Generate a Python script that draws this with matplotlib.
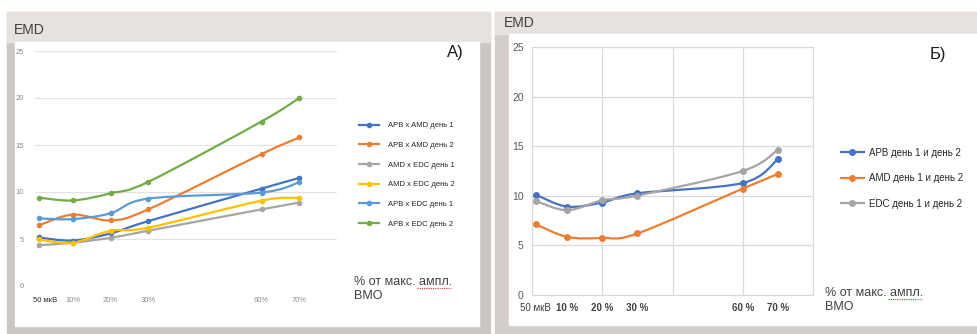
import matplotlib.pyplot as plt
from matplotlib.path import Path
from matplotlib.patches import PathPatch, Rectangle
from matplotlib.lines import Line2D
from matplotlib.transforms import ScaledTranslation

plt.rcParams['font.family'] = ['Liberation Sans', 'DejaVu Sans']

# x positions (% of max amplitude), first point is 50 мкВ
x_pos = [1, 10, 20, 30, 60, 70]
x_labels_a = ['50 мкВ', '10%', '20%', '30%', '60%', '70%']
x_labels_b = ['50 мкВ', '10 %', '20 %', '30 %', '60 %', '70 %']

# Panel A
names_a = ['APB x AMD день 1', 'APB x AMD день 2', 'AMD x EDC день 1',
           'AMD x EDC день 2', 'APB x EDC день 1', 'APB x EDC день 2']
apb_amd_1 = [5.16, 4.84, 5.59, 6.90, 10.36, 11.50]
apb_amd_2 = [6.45, 7.60, 6.98, 8.15, 14.03, 15.80]
amd_edc_1 = [4.34, 4.60, 5.13, 5.88, 8.15, 8.87]
amd_edc_2 = [4.95, 4.60, 5.88, 6.20, 9.08, 9.37]
apb_edc_1 = [7.19, 7.12, 7.73, 9.30, 9.94, 11.04]
apb_edc_2 = [9.40, 9.10, 9.86, 11.08, 17.50, 20.00]
colors_a = ['#4472C4', '#ED7D31', '#A5A5A5', '#FFC000', '#5B9BD5', '#70AD47']

# Panel B
names_b = ['APB день 1 и день 2', 'AMD день 1 и день 2', 'EDC день 1 и день 2']
apb_12 = [10.12, 8.91, 9.32, 10.25, 11.29, 13.70]
amd_12 = [7.14, 5.86, 5.76, 6.20, 10.72, 12.20]
edc_12 = [9.48, 8.55, 9.55, 10.02, 12.50, 14.64]
colors_b = ['#4472C4', '#ED7D31', '#A5A5A5']

W, H = 977, 334
fig = plt.figure(figsize=(W / 100, H / 100), dpi=100)


def box(x0, y0, x1, y1):
    # pixel box (from top-left) -> figure fraction rect
    return [x0 / W, 1 - y1 / H, (x1 - x0) / W, (y1 - y0) / H]


def frame(outer, inner, top_y, side_col, top_col):
    r = box(*outer)
    fig.patches.append(Rectangle(r[:2], r[2], r[3], transform=fig.transFigure,
                                 color=side_col, zorder=-3))
    t = box(outer[0], outer[1], outer[2], top_y)
    fig.patches.append(Rectangle(t[:2], t[2], t[3], transform=fig.transFigure,
                                 color=top_col, zorder=-2))
    i = box(*inner)
    fig.patches.append(Rectangle(i[:2], i[2], i[3], transform=fig.transFigure,
                                 color='white', zorder=-1))


def smooth(ax, x, y, color, lw, ms):
    # Excel-like smoothed line drawn as bezier path through the data points
    pts = list(zip(x, y))
    verts = [pts[0]]
    codes = [Path.MOVETO]
    n = len(pts)
    for i in range(n - 1):
        p0 = pts[max(i - 1, 0)]
        p1 = pts[i]
        p2 = pts[i + 1]
        p3 = pts[min(i + 2, n - 1)]
        c1 = (p1[0] + (p2[0] - p0[0]) / 6, p1[1] + (p2[1] - p0[1]) / 6)
        c2 = (p2[0] - (p3[0] - p1[0]) / 6, p2[1] - (p3[1] - p1[1]) / 6)
        verts += [c1, c2, p2]
        codes += [Path.CURVE4] * 3
    ax.add_patch(PathPatch(Path(verts, codes), fill=False, edgecolor=color,
                           lw=lw, capstyle='round', joinstyle='round', zorder=3))
    ax.plot(x, y, 'o', color=color, ms=ms, zorder=4, clip_on=False)


def axis_note(x, y, underline):
    fig.text(x / W, 1 - y / H, '% от макс. ампл.\nВМО', fontsize=9, color='#404040',
             va='center', linespacing=1.3)
    # spell-check squiggle under "ампл."
    x0, x1, yy = underline
    fig.add_artist(Line2D([x0 / W, x1 / W], [1 - yy / H, 1 - yy / H], color='#e03030',
                          lw=0.8, ls=(0, (1, 1)), transform=fig.transFigure))


# ---- backgrounds
frame((7, 12, 490, 334), (15, 42, 479, 326), 42, '#cdc7c4', '#e7e1df')
frame((495, 12, 977, 334), (509, 34, 977, 325), 34, '#d3cecb', '#e7e1df')

fig.text(14 / W, 1 - 30 / H, 'EMD', fontsize=10, color='#404040', va='center')
fig.text(504 / W, 1 - 23 / H, 'EMD', fontsize=10, color='#404040', va='center')

# ---- panel A
ax1 = fig.add_axes(box(35, 51, 337, 286))
ax1.patch.set_alpha(0)
series_a = [apb_amd_1, apb_amd_2, amd_edc_1, amd_edc_2, apb_edc_1, apb_edc_2]
for vals, c in zip(series_a, colors_a):
    smooth(ax1, x_pos, vals, c, 1.6, 3)
ax1.set_xlim(0, 80)
ax1.set_ylim(0, 25)
ax1.set_yticks([0, 5, 10, 15, 20, 25])
ax1.set_xticks(x_pos)
ax1.set_xticklabels(x_labels_a)
ax1.grid(axis='y', color='#e3e3e3', lw=0.9)
ax1.set_axisbelow(True)
for s in ax1.spines.values():
    s.set_visible(False)
ax1.tick_params(length=0, labelsize=5.5, labelcolor='#8c8c8c')
ax1.tick_params(axis='y', pad=8)
ax1.tick_params(axis='x', pad=8)
first = ax1.get_xticklabels()[0]
first.set_color('#303030')
first.set_transform(first.get_transform() + ScaledTranslation(6 / 100, 0, fig.dpi_scale_trans))

handles_a = [Line2D([], [], color=c, lw=1.6, marker='o', ms=3) for c in colors_a]
fig.legend(handles_a, names_a, loc='upper left', bbox_to_anchor=(352 / W, 1 - 115 / H),
           frameon=False, fontsize=5.5, labelcolor='#262626', handlelength=2.6,
           labelspacing=1.62, handletextpad=1.2)

fig.text(447 / W, 1 - 53 / H, 'А)', fontsize=12, color='#1a1a1a', va='center')
axis_note(354, 289, (417, 451, 288))

# ---- panel B
ax2 = fig.add_axes(box(532, 47, 813, 295))
series_b = [apb_12, amd_12, edc_12]
for vals, c in zip(series_b, colors_b):
    smooth(ax2, x_pos, vals, c, 1.6, 4)
ax2.set_xlim(0, 80)
ax2.set_ylim(0, 25)
ax2.set_yticks([0, 5, 10, 15, 20, 25])
ax2.set_xticks([0, 20, 40, 60, 80])
ax2.set_xticklabels([])
ax2.grid(color='#d9d9d9', lw=0.9)
ax2.set_axisbelow(True)
for s in ax2.spines.values():
    s.set_color('#d9d9d9')
ax2.tick_params(length=0, labelsize=7.5, labelcolor='#595959')
ax2.tick_params(axis='y', pad=6)
for xv, lab in zip(x_pos, x_labels_b):
    ax2.text(xv, -1.35, lab, ha='center', va='center', fontsize=7,
             color='#404040', fontweight='bold' if lab != x_labels_b[0] else 'normal')

handles_b = [Line2D([], [], color=c, lw=1.6, marker='o', ms=4) for c in colors_b]
fig.legend(handles_b, names_b, loc='upper left', bbox_to_anchor=(832 / W, 1 - 139 / H),
           frameon=False, fontsize=7, labelcolor='#262626', handlelength=2.4,
           labelspacing=1.6, handletextpad=0.5)

fig.text(930 / W, 1 - 54 / H, 'Б)', fontsize=12, color='#1a1a1a', va='center')
axis_note(825, 300, (888, 922, 299))

fig.savefig('out.png', dpi=100)
